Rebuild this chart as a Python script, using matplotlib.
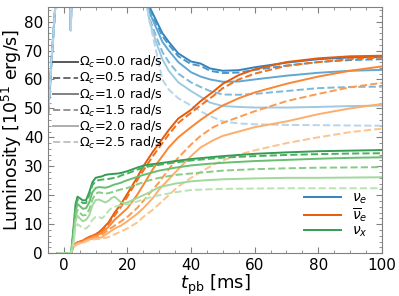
import matplotlib as mpl
mpl.use('Agg')
import matplotlib.pyplot as plt
import numpy as np
from matplotlib.lines import Line2D

omegas = [0.0, 0.5, 1.0, 1.5, 2.0, 2.5]
styles = ['-', '--', '-', '--', '-', '--']

# nu_e: common early part (clipped at top of axes), then one branch per Omega
t_nue_early = [-5, -4.5, -4, -3.5, -3, -2.5, -2, -1, 1.7, 2.2, 2.9, 10, 20, 25]
lum_nue_early = [47, 55, 64, 72, 80, 88, 97, 110, 110, 77, 110, 130, 120, 97]
t_nue = [25, 27, 29, 31, 33, 36, 40, 43, 46, 50, 55, 60, 70, 80, 90, 100]
lum_nue = [
    [97, 85, 80.5, 76, 73, 69, 66.2, 65.5, 63.8, 63, 63.2, 64.2, 65.8, 67, 67.6, 67.8],
    [96, 84, 79.5, 75, 72, 68, 65.3, 64.7, 63, 62.2, 62.4, 63.3, 64.8, 66, 66.7, 67],
    [95, 83, 78, 73, 70, 66, 62.5, 61, 60, 59.2, 59.3, 60, 61.3, 62.3, 63, 63.3],
    [94, 81, 75, 69.5, 66, 62, 59, 57.4, 56, 54.8, 54.7, 55, 56, 57, 57.4, 57.5],
    [93, 80, 73, 67, 63, 59, 56, 54, 52, 50.8, 50.5, 50.3, 50.3, 50.5, 50.8, 51],
    [92, 80, 70, 60, 56.5, 53.5, 51, 49, 47.3, 45.5, 44.8, 44.5, 44.3, 44.2, 44.1, 44],
]

t_anue = [-2, 2.3, 3, 4, 5, 6, 7, 8, 9, 10, 11, 12, 14, 16, 18, 20, 23, 25, 28, 30,
          33, 36, 40, 43, 47, 50, 55, 60, 70, 80, 90, 100]
lum_anue = [
    [0, 0, 2.5, 3.5, 4, 4.3, 5, 5.6, 6, 6.5, 7.2, 8.2, 10.5, 14, 17, 20.5, 26, 30, 35, 38,
     42.5, 46.5, 49.5, 52.5, 55.8, 58.5, 61.5, 63.5, 66, 67.3, 68, 68.2],
    [0, 0, 2.5, 3.5, 4, 4.3, 5, 5.5, 5.9, 6.3, 7, 7.8, 10, 13, 16, 19.5, 25, 28.5, 33.5, 36.5,
     41, 45, 48.5, 51, 54.3, 57, 60, 62, 64.7, 66, 67, 67.6],
    [0, 0, 2.3, 3.3, 3.8, 4, 4.6, 5.2, 5.6, 6, 6.4, 7, 9, 11.5, 13.5, 15.5, 20, 23.5, 29, 32,
     36.5, 40, 43.5, 46, 49, 51, 53.5, 55.5, 58.5, 61, 63, 64.5],
    [0, 0, 2.2, 3.2, 3.7, 3.9, 4.4, 5, 5.3, 5.5, 5.8, 6.3, 8, 9.5, 11, 12.5, 15.5, 18, 22, 24.5,
     29, 33, 37.5, 40.5, 43.5, 45, 47, 49, 52.5, 55, 57.3, 58.8],
    [0, 0, 2, 3, 3.5, 3.7, 4.2, 4.7, 4.9, 5, 5.2, 5.5, 7, 8.5, 9.5, 11, 13.5, 15.5, 19, 22,
     25.5, 29, 33.5, 36.5, 39, 40.5, 42, 43.5, 45.5, 48, 50, 51.5],
    [0, 0, 2, 2.8, 3.3, 3.5, 4, 4.4, 4.6, 4.8, 4.9, 5, 5.5, 6.5, 7.5, 8.5, 10.5, 12.5, 15, 17,
     20, 23, 26, 28, 30.5, 32, 34, 35.5, 38, 40, 41.8, 43],
]

t_nux = [-2, 2.3, 3, 3.7, 4.3, 5, 6, 7, 8, 9, 10, 11, 12, 13, 14, 15, 16, 17, 18, 19, 20,
         23, 25, 27, 30, 35, 40, 45, 50, 60, 70, 80, 90, 100]
lum_nux = [
    [0, 0, 8, 17, 19.5, 19, 18.2, 18.3, 21, 24.5, 26, 26.3, 26.5, 27, 27.2, 27.3, 27.4, 27.5, 27.7,
     28, 28.3, 29.5, 30.2, 30.6, 31, 31.8, 32.5, 33, 33.5, 34.3, 34.8, 35.2, 35.4, 35.6],
    [0, 0, 7, 16, 18.5, 18, 17.3, 17.3, 20, 23.5, 24.8, 25.2, 25.4, 25.5, 25.6, 25.8, 26, 26.3, 26.8,
     27.2, 27.5, 28.8, 29.5, 30, 30.5, 31.3, 32, 32.5, 33, 33.5, 33.9, 34.2, 34.4, 34.5],
    [0, 0, 6, 14.5, 17, 16.3, 15.3, 15.5, 17.5, 21, 22.5, 22.8, 22.7, 22.6, 22.8, 23.3, 23.7, 24, 24.3,
     24.8, 25.2, 26.3, 27, 27.6, 28.5, 29.5, 30.3, 30.8, 31.2, 31.8, 32.2, 32.6, 32.9, 33.1],
    [0, 0, 5, 12.5, 15, 14, 13, 13.2, 15, 18.5, 20.5, 21, 20.8, 20.5, 20.7, 21, 21.3, 21.7, 22,
     22.3, 22.5, 23.7, 24.5, 25.2, 26, 27, 27.5, 28, 28.5, 29, 29.3, 29.5, 29.6, 29.7],
    [0, 0, 4, 11, 13, 12, 11, 11.5, 13, 16.5, 18.3, 18.5, 18, 17.5, 18, 19, 19.5, 18.5, 17.5,
     17.2, 17.5, 19, 20, 21, 22.8, 24, 24.8, 25.2, 25.5, 25.8, 26, 26, 26.1, 26.2],
    [0, 0, 3, 8.5, 10, 9.5, 8.5, 8.5, 9.5, 11.5, 12.5, 12.5, 12, 13, 14.5, 15.5, 16, 16.3, 16.5,
     16.7, 16.9, 17.8, 18.5, 19.2, 20, 21, 21.8, 22, 22.2, 22.3, 22.4, 22.4, 22.4, 22.4],
]

levels = np.linspace(0.68, 0.3, 6)
blues = plt.cm.Blues(levels)
oranges = plt.cm.Oranges(levels)
greens = plt.cm.Greens(levels)
greys = plt.cm.Greys(levels + 0.05)

fig = plt.figure(figsize=(3.99, 2.96), dpi=100)
ax = fig.add_axes([0.12, 0.145, 0.837, 0.831])

for i in range(6):
    ax.plot(t_nue_early + t_nue, lum_nue_early + lum_nue[i], color=blues[i], ls=styles[i], lw=1.4)
for i in range(6):
    ax.plot(t_anue, lum_anue[i], color=oranges[i], ls=styles[i], lw=1.4)
for i in range(6):
    ax.plot(t_nux, lum_nux[i], color=greens[i], ls=styles[i], lw=1.4)

ax.set_xlim(-5, 100)
ax.set_ylim(0, 85)
ax.set_xticks([0, 20, 40, 60, 80, 100])
ax.set_yticks([0, 10, 20, 30, 40, 50, 60, 70, 80])
ax.xaxis.set_minor_locator(mpl.ticker.MultipleLocator(5))
ax.yaxis.set_minor_locator(mpl.ticker.MultipleLocator(2))
ax.tick_params(which='both', direction='in', top=True, right=True, color='#808080', labelsize=11)
ax.tick_params(which='major', length=4)
ax.tick_params(which='minor', length=2)
for s in ax.spines.values():
    s.set_color('#808080')
ax.set_xlabel(r'$t_{\rm pb}$ [ms]', fontsize=13, labelpad=0)
ax.set_ylabel(r'Luminosity [$10^{51}$ erg/s]', fontsize=12.5, labelpad=0)

om_handles = [Line2D([], [], color=greys[i], ls=styles[i], lw=1.4) for i in range(6)]
om_labels = [r'$\Omega_c$=%.1f rad/s' % w for w in omegas]
leg1 = ax.legend(om_handles, om_labels, loc='center left', bbox_to_anchor=(-0.01, 0.612),
                 frameon=False, fontsize=9.2, handlelength=1.9, handletextpad=0.1,
                 labelspacing=0.0, borderpad=0.2)
ax.add_artist(leg1)

fl_handles = [Line2D([], [], color=c, lw=1.4) for c in (blues[0], oranges[0], greens[0])]
fl_labels = [r'$\nu_e$', r'$\overline{\nu}_e$', r'$\nu_x$']
ax.legend(fl_handles, fl_labels, loc='lower right', frameon=False, fontsize=10,
          handlelength=2.7, labelspacing=0.0, borderpad=0.5)

plt.savefig('out.png', dpi=100)
plt.close()
